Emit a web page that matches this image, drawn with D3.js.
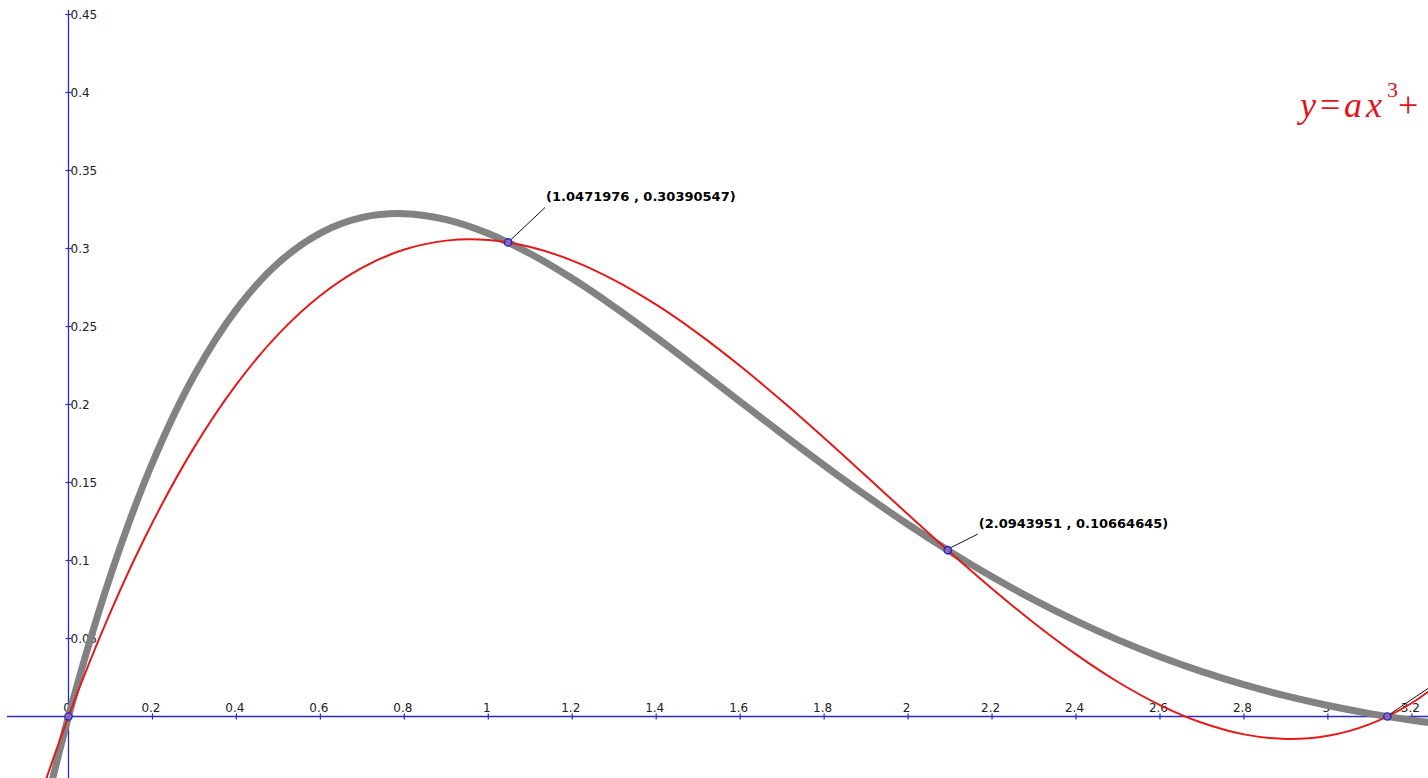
<!DOCTYPE html>
<html><head><meta charset="utf-8">
<script src="https://cdn.jsdelivr.net/npm/d3@7"></script>
<style>html,body{margin:0;padding:0;background:#fff;overflow:hidden}</style>
</head><body><svg id="c" width="1428" height="778"></svg>
<script>
// sampled x positions of both curves
const sampleX = [-0.1,0,0.1,0.2,0.3,0.4,0.5,0.6,0.7,0.8,0.9,1.0,1.1,1.2,1.3,1.4,1.5,1.6,1.7,1.8,1.9,2.0,2.1,2.2,2.3,2.4,2.5,2.6,2.7,2.8,2.9,3.0,3.1,3.2,3.3];
// gray curve values
const grayY = [-0.11033,0,0.090333,0.162656,0.218926,0.261035,0.290786,0.309882,0.319909,0.322329,0.318477,0.309560,0.296658,0.280725,0.262600,0.243009,0.222571,0.201811,0.181161,0.160976,0.141537,0.123060,0.105705,0.089584,0.074764,0.061277,0.049126,0.038288,0.028723,0.020371,0.013164,0.007026,0.001873,-0.002379,-0.005818];
// red cubic values
const redY = [-0.076855,0,0.066889,0.124327,0.172829,0.212911,0.245088,0.269875,0.287787,0.299339,0.305049,0.305430,0.300997,0.292267,0.279754,0.263973,0.245441,0.224672,0.202181,0.178484,0.154097,0.129534,0.105311,0.081943,0.059946,0.039833,0.022123,0.007329,-0.004034,-0.011449,-0.014402,-0.012378,-0.004861,0.008666,0.028714];

const xTicks = [0,0.2,0.4,0.6,0.8,1,1.2,1.4,1.6,1.8,2,2.2,2.4,2.6,2.8,3,3.2];
const xTickLabels = ["0","0.2","0.4","0.6","0.8","1","1.2","1.4","1.6","1.8","2","2.2","2.4","2.6","2.8","3","3.2"];
const yTicks = [0.05,0.1,0.15,0.2,0.25,0.3,0.35,0.4,0.45];
const yTickLabels = ["0.05","0.1","0.15","0.2","0.25","0.3","0.35","0.4","0.45"];

const markX = [0, 1.0471976, 2.0943951, 3.1415927];
const markY = [0, 0.30390547, 0.10664645, 0];
const markLabels = ["", "(1.0471976 , 0.30390547)", "(2.0943951 , 0.10664645)", ""];

const svg = d3.select("#c");
const x = d3.scaleLinear().domain([0, 1]).range([68.5, 488.3]);
const y = d3.scaleLinear().domain([0, 0.1]).range([716.5, 560.5]);

const AX = "#2b2bc4";
const tickFont = "'DejaVu Sans', sans-serif";

// axes lines
svg.append("line").attr("x1", 7).attr("x2", 1428).attr("y1", y(0)).attr("y2", y(0))
  .attr("stroke", AX).attr("stroke-width", 1.3);
svg.append("line").attr("x1", x(0)).attr("x2", x(0)).attr("y1", 10).attr("y2", 778)
  .attr("stroke", AX).attr("stroke-width", 1.3);

// x ticks
const xt = svg.append("g");
xTicks.forEach((t, i) => {
  xt.append("line").attr("x1", x(t)).attr("x2", x(t)).attr("y1", y(0) - 3).attr("y2", y(0) + 3)
    .attr("stroke", AX).attr("stroke-width", 1.2);
  xt.append("text").attr("x", x(t) - 1.5).attr("y", y(0) - 5).attr("text-anchor", "middle")
    .attr("font-family", tickFont).attr("font-size", 12).attr("fill", "#222")
    .text(xTickLabels[i]);
});
// y ticks
const yt = svg.append("g");
yTicks.forEach((t, i) => {
  yt.append("line").attr("x1", x(0) - 3).attr("x2", x(0) + 3).attr("y1", y(t)).attr("y2", y(t))
    .attr("stroke", AX).attr("stroke-width", 1.2);
  yt.append("text").attr("x", x(0) + 2).attr("y", y(t)).attr("dy", "0.36em")
    .attr("font-family", tickFont).attr("font-size", 12).attr("fill", "#222")
    .text(yTickLabels[i]);
});

const line = d3.line().x(d => x(d[0])).y(d => y(d[1])).curve(d3.curveCatmullRom.alpha(0.5));

svg.append("path").datum(sampleX.map((v, i) => [v, grayY[i]]))
  .attr("d", line).attr("fill", "none").attr("stroke", "#828282").attr("stroke-width", 7)
  .attr("stroke-linecap", "round");
svg.append("path").datum(sampleX.map((v, i) => [v, redY[i]]))
  .attr("d", line).attr("fill", "none").attr("stroke", "#e21a1a").attr("stroke-width", 2);

// leader lines and labels
const leaderDX = [0, 37, 30, 42];
const leaderDY = [0, -35, -16, -29];
markX.forEach((mx, i) => {
  if (leaderDX[i] === 0) return;
  const px = x(mx), py = y(markY[i]);
  svg.append("line").attr("x1", px + 2).attr("y1", py - 2)
    .attr("x2", px + leaderDX[i]).attr("y2", py + leaderDY[i])
    .attr("stroke", "#111").attr("stroke-width", 1);
  if (markLabels[i]) {
    svg.append("text").attr("x", px + leaderDX[i] + 1).attr("y", py + leaderDY[i] - 6)
      .attr("font-family", "'DejaVu Sans', sans-serif").attr("font-weight", "bold")
      .attr("font-size", 13).attr("fill", "#000").text(markLabels[i]);
  }
});

// marked points
markX.forEach((mx, i) => {
  svg.append("circle").attr("cx", x(mx)).attr("cy", y(markY[i])).attr("r", 3.6)
    .attr("fill", "rgba(120,120,255,0.55)").attr("stroke", "#2424c8").attr("stroke-width", 1.4);
});

// formula text
const ft = svg.append("text").attr("y", 117).attr("fill", "#e0141e")
  .attr("font-family", "'Liberation Serif', 'Times New Roman', serif").attr("font-size", 36);
ft.append("tspan").attr("x", 1300).attr("font-style", "italic").text("y");
ft.append("tspan").attr("x", 1320).text("=");
ft.append("tspan").attr("x", 1344).attr("font-style", "italic").text("a");
ft.append("tspan").attr("x", 1366).attr("font-style", "italic").text("x");
ft.append("tspan").attr("x", 1387).attr("y", 97).attr("font-size", 22).text("3");
ft.append("tspan").attr("x", 1398).attr("y", 117).text("+");
</script>
</body></html>
